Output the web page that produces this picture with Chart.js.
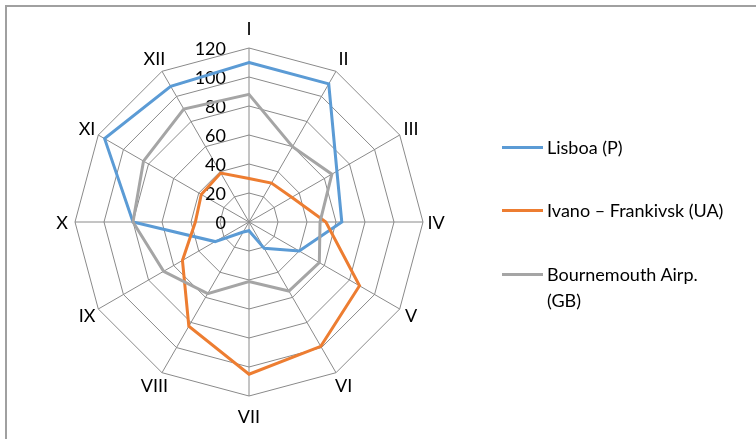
<!DOCTYPE html>
<html>
<head>
<meta charset="utf-8">
<script src="https://cdn.jsdelivr.net/npm/chart.js@4"></script>
<style>
  body { margin: 0; background: #fff; font-family: Lato, sans-serif; }
  .page { position: relative; width: 756px; height: 439px; overflow: hidden; }
  .frame { position: absolute; left: 5px; top: 5px; right: -5px; bottom: -5px;
           border-top: 2px solid #a0a0a0; border-left: 2px solid #a0a0a0; }
  .chart__body { position: absolute; left: 0; top: 0; width: 756px; height: 439px; }
  .legend { position: absolute; left: 502px; top: 0; font: 18px Lato, sans-serif; color: #000; }
  .legend__item { position: absolute; left: 0; width: 254px; }
  .legend__line { position: absolute; left: 0; width: 41px; height: 3px; }
  .legend__text { position: absolute; left: 45px; line-height: 26px; white-space: nowrap; }
</style>
</head>
<body>
<div class="page">
  <div class="frame"></div>
  <div class="chart__body"><canvas id="myChart"></canvas></div>
  <div class="legend" id="legend"></div>
</div>
<script>
// Месяцы (ось)
const months = ["I", "II", "III", "IV", "V", "VI", "VII", "VIII", "IX", "X", "XI", "XII"];

// Значения по городам
const lisboa = [110, 110, 70, 64, 40, 21, 6, 8, 27, 80, 115, 108];
const ivano = [30, 31, 34, 53, 88, 99, 105, 83, 53, 37, 38, 39];
const bournemouth = [88, 60, 66, 49, 56, 55, 41, 57, 68, 80, 84, 90];

// Шкала
const scaleMax = 120;
const scaleStep = 20;

// Подписи легенды (по строкам)
const legendLabels = [["Lisboa (P)"], ["Ivano – Frankivsk (UA)"], ["Bournemouth Airp.", "(GB)"]];
const seriesColors = ["#5B9BD5", "#ED7D31", "#A5A5A5"];

const data = {
  labels: months,
  datasets: [lisboa, ivano, bournemouth].map((values, i) => ({
    label: legendLabels[i].join(" "),
    data: values,
    borderColor: seriesColors[i],
    backgroundColor: seriesColors[i],
    borderWidth: 3,
    fill: false,
    tension: 0,
    pointRadius: 0,
    pointHoverRadius: 0,
    order: 3 - i,
  })),
};

// подписи шкалы и месяцев рисуем сами, как в Excel
const capHalf = 6.5;
const excelLabels = {
  id: "excelLabels",
  beforeDatasetsDraw(chart) {
    const r = chart.scales.r;
    const ctx = chart.ctx;
    ctx.save();
    ctx.font = "18px Lato";
    ctx.fillStyle = "#000";
    ctx.textBaseline = "alphabetic";
    // значения слева от оси I
    ctx.textAlign = "right";
    r.ticks.forEach(function (t) {
      const d = r.getDistanceFromCenterForValue(t.value);
      ctx.fillText(String(t.value), r.xCenter - 23, r.yCenter - d + capHalf);
    });
    // месяцы по кругу
    ctx.textAlign = "center";
    chart.data.labels.forEach(function (lab, i) {
      const c = Math.abs(Math.cos(r.getIndexAngle(i)));
      const p = r.getPointPosition(i, r.drawingArea + 13 + 7 * Math.pow(c, 8));
      ctx.fillText(lab, p.x, p.y + capHalf);
    });
    ctx.restore();
  },
};

const config = {
  type: "radar",
  data,
  plugins: [excelLabels],
  options: {
    responsive: true,
    maintainAspectRatio: false,
    animation: false,
    layout: {
      padding: { left: 75, right: 333, top: 48, bottom: 43 },
    },
    scales: {
      r: {
        min: 0,
        max: scaleMax,
        ticks: { stepSize: scaleStep, display: false },
        grid: { color: "#8a8a8a", lineWidth: 1 },
        angleLines: { color: "#8a8a8a", lineWidth: 1 },
        pointLabels: { display: false },
      },
    },
    plugins: {
      legend: { display: false },
      tooltip: { enabled: false },
    },
  },
};

const myChart = new Chart(document.getElementById("myChart"), config);

// легенда
const legendTops = [147, 210, 274];
const legend = document.getElementById("legend");
myChart.data.datasets.forEach(function (ds, i) {
  const item = document.createElement("div");
  item.className = "legend__item";
  item.style.top = legendTops[i] + "px";
  const line = document.createElement("div");
  line.className = "legend__line";
  line.style.background = ds.borderColor;
  line.style.top = "-1px";
  const text = document.createElement("div");
  text.className = "legend__text";
  text.style.top = "-13px";
  legendLabels[i].forEach(function (row) {
    const r = document.createElement("div");
    r.textContent = row;
    text.appendChild(r);
  });
  item.appendChild(line);
  item.appendChild(text);
  legend.appendChild(item);
});
</script>
</body>
</html>
